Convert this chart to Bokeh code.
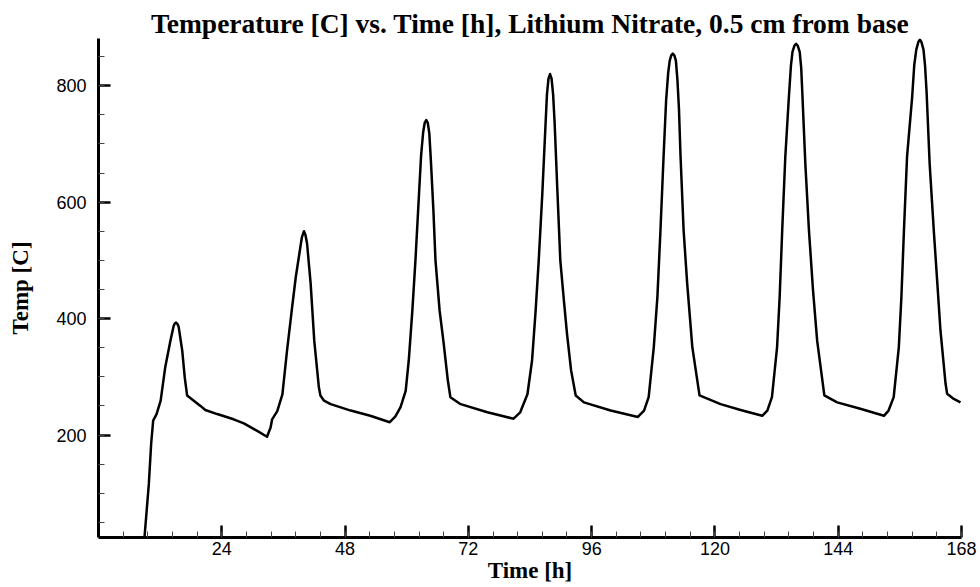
from bokeh.plotting import figure
from bokeh.models import Range1d, FixedTicker
from bokeh.embed import file_html
from bokeh.resources import INLINE

title_text = "Temperature [C] vs. Time [h], Lithium Nitrate, 0.5 cm from base"
x_label = "Time [h]"
y_label = "Temp [C]"

x_major_ticks = [24, 48, 72, 96, 120, 144, 168]
y_major_ticks = [200, 400, 600, 800]

time_h = [
    8.95, 9.8, 10.25, 10.65, 11.3, 12.1, 13.0, 14.0, 14.65, 14.9, 15.1, 15.35, 15.6, 16.3, 16.8, 17.25,
    18.55, 19.85, 20.8, 23.1, 26.3, 28.3, 30.9, 32.8, 33.5, 33.8, 34.8, 35.8, 36.7, 37.7,
    38.4, 39.3, 39.6, 40.0, 40.3, 40.6, 41.3, 42.0, 42.9, 43.2, 43.9, 45.2, 49.1, 52.9, 56.7,
    57.8, 58.8, 59.8, 60.4, 61.1, 61.7, 62.4, 62.8, 63.2, 63.5, 63.8, 64.1, 64.4, 64.7, 65.2, 65.6,
    66.4, 67.2, 68.0, 68.5, 70.5, 75.7, 80.8,
    82.1, 83.5, 84.4, 85.1, 85.7, 86.4, 87.0, 87.3, 87.6, 87.9, 88.2, 88.5, 88.8, 89.3, 89.9, 90.6,
    91.2, 92.0, 92.9, 94.5, 99.7, 105.0,
    106.2, 107.1, 108.1, 108.8, 109.4, 110.0, 110.5, 110.9, 111.2, 111.5, 111.8, 112.1, 112.4,
    112.7, 113.0, 113.3, 113.9, 114.6, 115.6, 117.0, 121.1, 125.0, 129.2,
    130.2, 131.1, 132.1, 132.6, 133.1, 133.7, 134.4, 134.8, 135.1, 135.5, 135.8, 136.1, 136.5,
    136.8, 137.0, 137.6, 138.3, 139.1, 139.9, 141.3, 143.8, 148.3, 152.9,
    153.8, 154.8, 155.8, 156.3, 156.8, 157.4, 158.4, 158.8, 159.2, 159.6, 159.9, 160.2, 160.6,
    160.9, 161.2, 161.8, 162.6, 163.3, 163.9, 164.9, 165.2, 166.5, 167.8,
]
temp_c = [
    24, 116, 185, 225, 236, 259, 317, 362, 388, 392, 393, 391, 386, 345, 298, 268,
    259, 250, 243, 236, 227, 220, 207, 197, 213, 227, 241, 270, 345, 420,
    471, 523, 540, 550, 543, 529, 460, 362, 282, 268, 259, 253, 242, 233, 222,
    232, 248, 276, 328, 414, 500, 615, 680, 720, 736, 741, 736, 718, 672, 585, 500,
    414, 357, 294, 265, 253, 239, 228,
    239, 270, 328, 414, 500, 615, 729, 785, 812, 820, 812, 785, 735, 626, 500, 431,
    374, 311, 268, 256, 242, 231,
    242, 265, 351, 437, 552, 678, 775, 822, 843, 852, 855, 852, 843,
    810, 760, 680, 552, 460, 351, 268, 253, 243, 233,
    242, 265, 351, 437, 552, 678, 781, 835, 858, 869, 872, 869, 858,
    830, 790, 666, 552, 448, 362, 268, 256, 245, 233,
    242, 265, 351, 437, 552, 678, 781, 835, 862, 875, 879, 875, 862,
    835, 790, 666, 552, 460, 380, 288, 271, 262, 256,
]

p = figure(
    width=980, height=587,
    x_range=Range1d(0, 168), y_range=Range1d(24, 881),
    output_backend="svg", toolbar_location=None,
    min_border_left=98, min_border_right=19, min_border_top=38, min_border_bottom=50,
)
p.outline_line_color = None
p.xgrid.visible = False
p.ygrid.visible = False

p.title.text = title_text
p.title.align = "center"
p.title.text_font = "Liberation Serif"
p.title.text_font_style = "bold"
p.title.text_font_size = "27.5px"
p.title.text_color = "black"
p.title.standoff = 0
p.title.offset = 0

p.line(time_h, temp_c, line_color="black", line_width=2.5, line_join="round")

for ax in (p.xaxis[0], p.yaxis[0]):
    ax.axis_line_width = 3
    ax.axis_line_color = "black"
    ax.major_tick_in = 12
    ax.major_tick_out = 0
    ax.major_tick_line_width = 2.5
    ax.major_tick_line_color = "black"
    ax.minor_tick_in = 6
    ax.minor_tick_out = 0
    ax.minor_tick_line_width = 1
    ax.minor_tick_line_color = "#444444"
    ax.major_label_text_font = "Liberation Sans"
    ax.major_label_text_font_size = "18px"
    ax.major_label_text_color = "black"
    ax.axis_label_text_font = "Liberation Serif"
    ax.axis_label_text_font_style = "bold"
    ax.axis_label_text_font_size = "23px"
    ax.axis_label_text_color = "black"

p.xaxis.ticker = FixedTicker(ticks=x_major_ticks,
                             minor_ticks=[4.8 * k for k in range(1, 36)])
p.yaxis.ticker = FixedTicker(ticks=y_major_ticks,
                             minor_ticks=[50 * k for k in range(1, 18)])
p.xaxis.axis_label = x_label
p.yaxis.axis_label = y_label
p.xaxis.major_label_standoff = 4
p.xaxis.axis_label_standoff = 0
p.yaxis.major_label_standoff = 12
p.yaxis.axis_label_standoff = 20

open("out.html", "w").write(file_html(p, INLINE))
